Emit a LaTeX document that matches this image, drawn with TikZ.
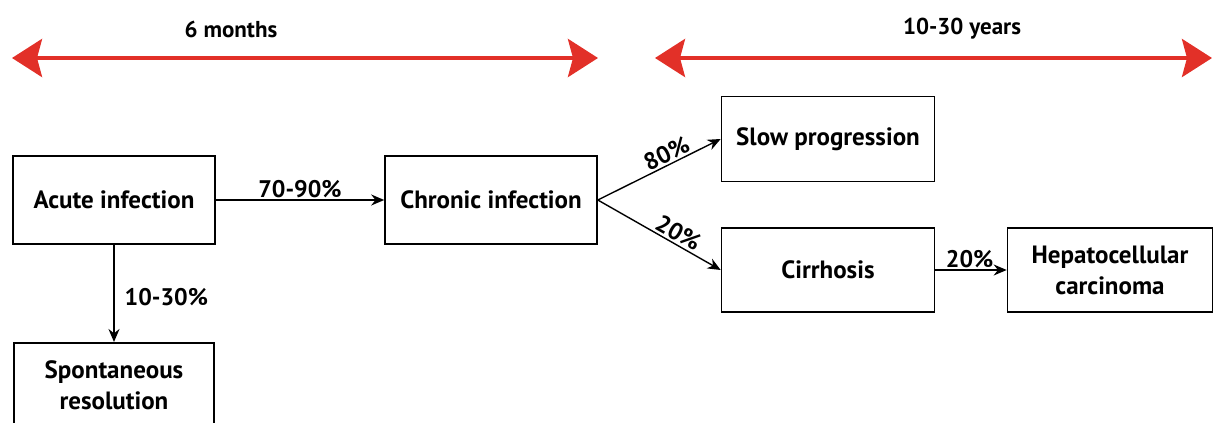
\documentclass[tikz,border=0pt]{standalone}
\usepackage{fontspec}
\setmainfont{PT Sans}
\usetikzlibrary{arrows.meta}
\definecolor{spanred}{RGB}{226,48,40}
\tikzset{
  box/.style={draw=black, line width=1.6pt, fill=white, inner sep=2pt, align=center, font=\bfseries\fontsize{25}{31}\selectfont},
  flow/.style={draw=black, line width=1.4pt, -{Stealth[length=13pt,width=11pt]}},
  pct/.style={font=\bfseries\fontsize{24}{26}\selectfont, inner sep=0pt},
  span/.style={draw=spanred, line width=4pt, {Stealth[length=30pt,width=38pt,inset=5pt]}-{Stealth[length=30pt,width=38pt,inset=5pt]}},
  spanlabel/.style={font=\bfseries\fontsize{23}{26}\selectfont}
}
\begin{document}
\begin{tikzpicture}[x=1pt,y=-1pt]
\useasboundingbox (0,0) rectangle (1219,423);
\clip (0,0) rectangle (1219,423);
% timespans
\coordinate (s1a) at (12,58);
\coordinate (s1b) at (598,58);
\coordinate (s2a) at (655,58);
\coordinate (s2b) at (1212,58);
\draw[span] (s1a) -- (s1b);
\draw[span] (s2a) -- (s2b);
\node[spanlabel] (l6) at (231,29) {6 months};
\node[spanlabel] (l10) at (962,29) {10-30 years};
% boxes
\node[box, minimum width=202pt, minimum height=88pt] (acute) at (114,200) {Acute infection};
\node[box, minimum width=212pt, minimum height=88pt] (chronic) at (491,200) {Chronic infection};
\node[box, minimum width=213pt, minimum height=85pt] (slow) at (828,139) {Slow progression};
\node[box, minimum width=213pt, minimum height=84pt] (cirr) at (828,270) {Cirrhosis};
\node[box, minimum width=205pt, minimum height=84pt] (hcc) at (1110,270) {Hepatocellular\\carcinoma};
\node[box, minimum width=200pt, minimum height=84pt, anchor=north] (spont) at (114,342) {Spontaneous\\resolution};
% connectors
\draw[flow] (acute.east) -- node[pct, above=1pt] {70-90\%} (chronic.west);
\draw[flow] (acute.south) -- node[pct, right=10pt, yshift=-4pt] {10-30\%} (spont.north);
\draw[flow] (chronic.east) -- node[pct, sloped, above=2pt, pos=0.6] {80\%} (slow.west);
\draw[flow] (chronic.east) -- node[pct, sloped, above=2pt, pos=0.61] {20\%} (cirr.west);
\draw[flow] (cirr.east) -- node[pct, above=1pt, pos=0.48] {20\%} (hcc.west);
\end{tikzpicture}
\end{document}
